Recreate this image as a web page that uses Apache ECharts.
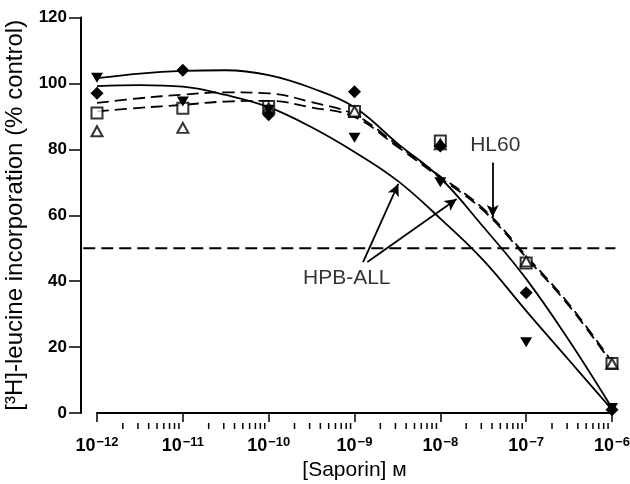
<!DOCTYPE html>
<html><head><meta charset="utf-8">
<script src="https://cdn.jsdelivr.net/npm/echarts@6/dist/echarts.min.js"></script>
<style>html,body{margin:0;padding:0;background:#fff}#c{width:630px;height:484px}</style>
</head><body><div id="c"></div>
<script>
// ---- data ----
const doses = [1e-12, 1e-11, 1e-10, 1e-9, 1e-8, 1e-7, 1e-6];
const diamondVals = [97, 104, 90.5, 97.5, 81, 36.5, 1];
const downTriVals = [101.7, 94.5, 92, 83.5, 70, 21.5, 1.5];
const squareVals  = [91, 92.5, 93, 91.5, 82.5, 45.5, 15];
const openTriVals = [85.5, 86.5, 92.5, 91.5, 81.5, 46, 15];

const curveExp    = [-12, -11.5, -11, -10.5, -10, -9.5, -9, -8.5, -8, -7.5, -7, -6.5, -6];
const solidUpper  = [101.6, 103, 103.8, 104, 102.5, 98.6, 92.8, 81.8, 71.3, 56.5, 40.7, 22, 1.5];
const solidLower  = [99.2, 99.5, 99, 96.5, 92.8, 86.7, 79.2, 70.5, 59, 46.4, 31, 16, 1];
const dashedUpper = [94.1, 95.5, 96.6, 97.3, 97, 94.3, 90.5, 81.3, 71.8, 62, 47.7, 33, 15.5];
const dashedLower = [91.5, 92.6, 93.5, 94.5, 94.7, 92.7, 89.8, 80.8, 71.3, 61.5, 47.2, 32.5, 15];

const refLevel = 50;
const refLineExp = [-12.16, -5.96];

const yTicks = [0, 20, 40, 60, 80, 100, 120];
const xDecades = [-12, -11, -10, -9, -8, -7, -6];

const labelHL60 = { text: 'HL60', exp: -7.36, y: 81.3 };
const labelHPB  = { text: 'HPB-ALL', exp: -9.09, y: 41 };
const arrowList = [
  { fromExp: -8.90, fromY: 45.8, toExp: -8.49, toY: 69.5 },
  { fromExp: -8.85, fromY: 45.8, toExp: -7.81, toY: 64.9 },
  { fromExp: -7.39, fromY: 76,   toExp: -7.39, toY: 59.5 }
];

// ---- build ----
const FONT = 'Liberation Sans';
const pts = vals => doses.map((d, i) => [d, vals[i]]);
const curve = vals => curveExp.map((e, i) => [Math.pow(10, e), vals[i]]);
const minorTicks = [];
for (let n = xDecades[0]; n < xDecades[xDecades.length - 1]; n++) {
  for (let k = 2; k <= 9; k++) minorTicks.push([k * Math.pow(10, n), 0]);
}

const chart = echarts.init(document.getElementById('c'), null, { renderer: 'canvas' });

const lineBase = { type: 'line', symbol: 'none', smooth: 0.4, silent: true, z: 2 };
const scatterBase = { type: 'scatter', silent: true, z: 5,
  itemStyle: { color: '#000', opacity: 1 } };

chart.setOption({
  animation: false,
  backgroundColor: '#fff',
  textStyle: { fontFamily: FONT, color: '#000' },
  grid: { left: 97, right: 18, top: 17.5, bottom: 71, outerBoundsMode: 'none', containLabel: false },
  xAxis: {
    type: 'log', logBase: 10, min: 1e-12, max: 1e-6, splitNumber: 6,
    offset: 10,
    axisLine: { lineStyle: { color: '#000', width: 2 } },
    axisTick: { length: 9, lineStyle: { color: '#000', width: 1.5 } },
    splitLine: { show: false },
    axisLabel: {
      margin: 13, color: '#000',
      formatter: v => '{b|10}{s|−' + Math.abs(Math.round(Math.log10(v))) + '}',
      rich: {
        b: { fontSize: 18, fontWeight: 'bold', fontFamily: FONT, color: '#000', lineHeight: 20 },
        s: { fontSize: 13, fontWeight: 'bold', fontFamily: FONT, color: '#000', verticalAlign: 'top', lineHeight: 20, padding: [0, 0, 6, 1] }
      }
    },
    name: '[Saporin] м', nameLocation: 'middle', nameGap: 35,
    nameTextStyle: { fontSize: 21, fontFamily: FONT, color: '#000' }
  },
  yAxis: {
    type: 'value', min: yTicks[0], max: yTicks[yTicks.length - 1], interval: 20,
    offset: 16,
    axisLine: { show: true, lineStyle: { color: '#000', width: 2 } },
    axisTick: { show: true, length: 12, lineStyle: { color: '#000', width: 1.5 } },
    splitLine: { show: false },
    axisLabel: { margin: 14, fontSize: 17, fontWeight: 'bold', color: '#000', fontFamily: FONT },
    name: '[³H]-leucine incorporation (% control)', nameLocation: 'middle', nameGap: 52,
    nameTextStyle: { fontSize: 24, fontFamily: FONT, color: '#000' }
  },
  series: [
    {
      type: 'custom', silent: true, z: 1,
      data: minorTicks,
      renderItem: (params, api) => {
        const p = api.coord([api.value(0), 0]);
        return { type: 'line', shape: { x1: p[0], y1: p[1] + 10, x2: p[0], y2: p[1] + 16 },
          style: { stroke: '#000', lineWidth: 1.5 } };
      }
    },
    {
      type: 'custom', silent: true, z: 1, clip: false,
      data: [[Math.pow(10, refLineExp[0]), Math.pow(10, refLineExp[1]), refLevel]],
      renderItem: (params, api) => {
        const a = api.coord([api.value(0), api.value(2)]);
        const b = api.coord([api.value(1), api.value(2)]);
        return { type: 'line', shape: { x1: a[0], y1: a[1], x2: b[0], y2: b[1] },
          style: { stroke: '#000', lineWidth: 2, lineDash: [12, 6] } };
      }
    },
    Object.assign({}, lineBase, { data: curve(solidUpper), lineStyle: { color: '#000', width: 1.8 } }),
    Object.assign({}, lineBase, { data: curve(solidLower), lineStyle: { color: '#000', width: 1.8 } }),
    Object.assign({}, lineBase, { data: curve(dashedUpper), lineStyle: { color: '#000', width: 1.8, type: [12, 6] } }),
    Object.assign({}, lineBase, { data: curve(dashedLower), lineStyle: { color: '#000', width: 1.8, type: [12, 6] } }),
    Object.assign({}, scatterBase, { data: pts(squareVals), symbol: 'rect', symbolSize: 11,
      itemStyle: { color: '#fff', borderColor: '#000', borderWidth: 2 } }),
    Object.assign({}, scatterBase, { data: pts(openTriVals), symbol: 'triangle', symbolSize: [11, 10],
      itemStyle: { color: '#fff', borderColor: '#000', borderWidth: 2 } }),
    Object.assign({}, scatterBase, { data: pts(diamondVals), symbol: 'diamond', symbolSize: [13, 13] }),
    Object.assign({}, scatterBase, { data: pts(downTriVals), symbol: 'triangle', symbolRotate: 180, symbolSize: [12, 10] }),
    {
      type: 'scatter', silent: true, z: 6, symbolSize: 0,
      data: [labelHL60, labelHPB].map(l => ({ value: [Math.pow(10, l.exp), l.y], name: l.text })),
      label: { show: true, position: 'inside', formatter: p => p.name, fontSize: 21, fontFamily: FONT, color: '#000' },
      markLine: {
        silent: true, animation: false,
        symbol: ['none', 'arrow'], symbolSize: [9, 12],
        label: { show: false },
        lineStyle: { color: '#000', width: 1.8, type: 'solid' },
        emphasis: { disabled: true },
        data: arrowList.map(a => [
          { coord: [Math.pow(10, a.fromExp), a.fromY] },
          { coord: [Math.pow(10, a.toExp), a.toY] }
        ])
      }
    }
  ]
});
</script></body></html>
